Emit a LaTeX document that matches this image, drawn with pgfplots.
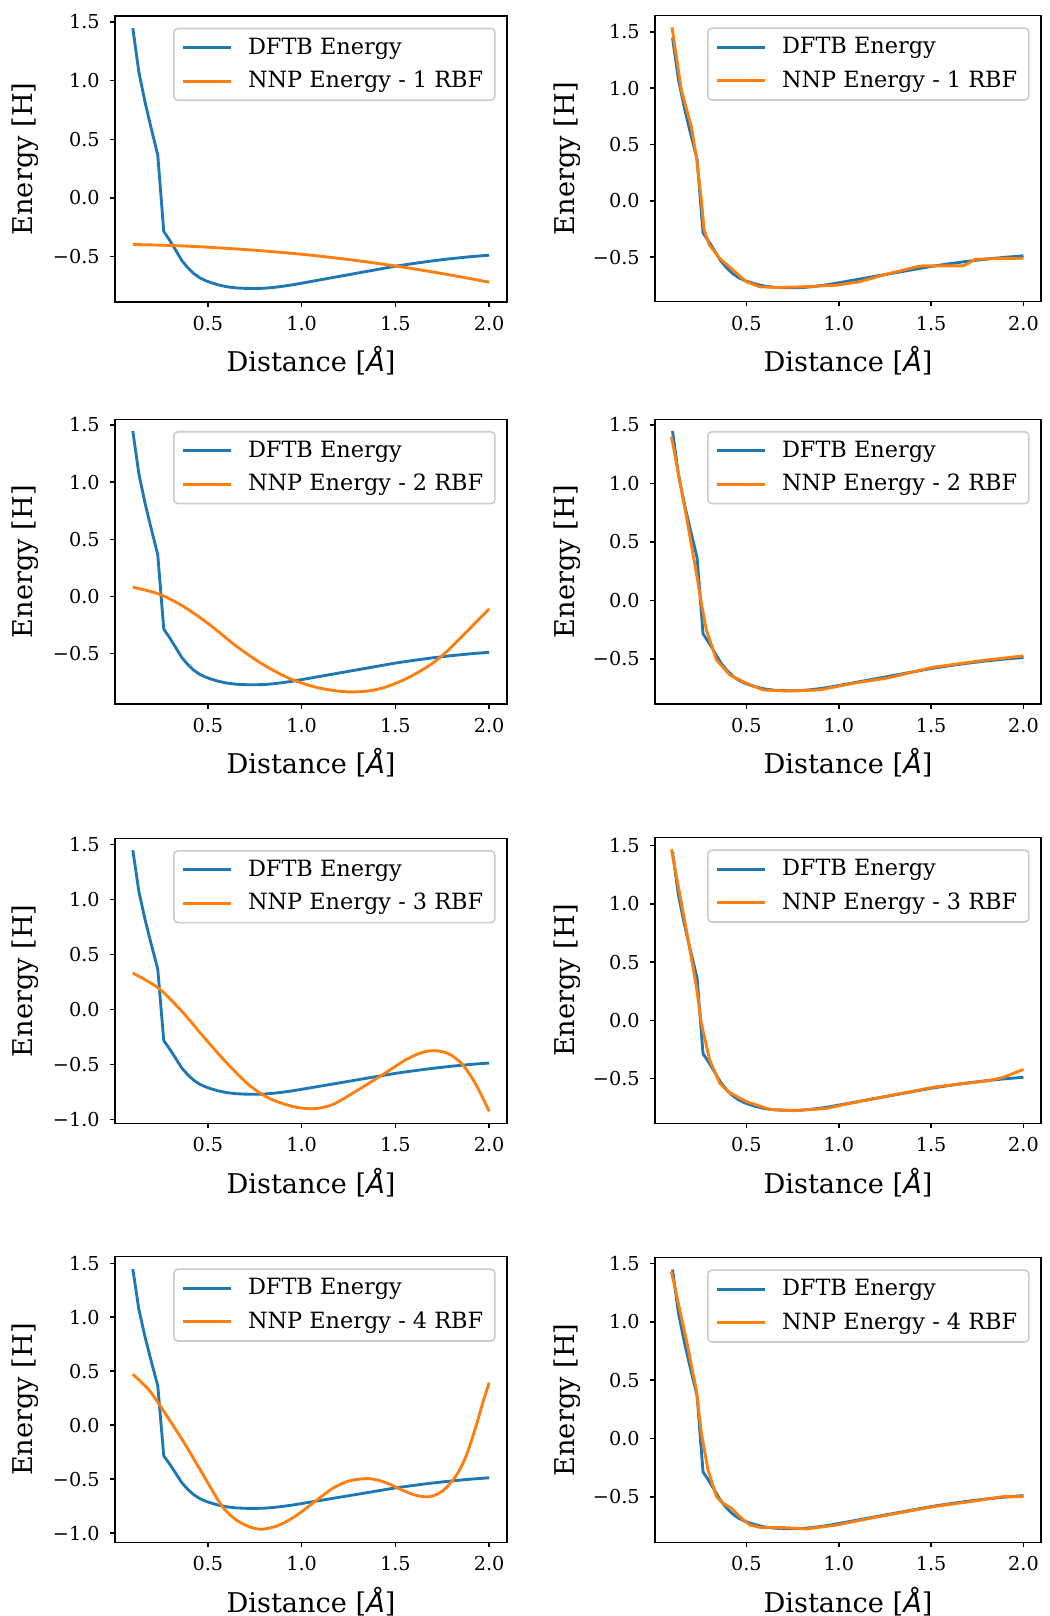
\documentclass[border=0pt]{standalone}
\usepackage{fontspec}
\setmainfont{DejaVu Serif}
\newfontfamily\dvs{DejaVu Sans}
\usepackage{pgfplots}
\usepackage{pgfplotstable}
\pgfplotsset{compat=1.18}
\definecolor{mplblue}{HTML}{1F77B4}
\definecolor{mplorange}{HTML}{FF7F0E}

\pgfplotstableread{
x y
0.100 1.447
0.132 1.075
0.164 0.825
0.197 0.600
0.233 0.365
0.265 -0.285
0.297 -0.362
0.329 -0.447
0.361 -0.533
0.393 -0.595
0.425 -0.645
0.457 -0.681
0.489 -0.706
0.521 -0.724
0.553 -0.740
0.600 -0.757
0.650 -0.767
0.700 -0.771
0.750 -0.772
0.800 -0.770
0.850 -0.763
0.900 -0.753
0.950 -0.741
1.000 -0.727
1.100 -0.698
1.200 -0.669
1.300 -0.640
1.400 -0.611
1.500 -0.582
1.600 -0.558
1.700 -0.536
1.800 -0.517
1.900 -0.501
2.000 -0.488
}\dftb

\pgfplotsset{
  panel/.style={
    scale only axis, anchor=south west,
    xmin=0.005, xmax=2.095,
    xtick={0.5,1,1.5,2}, xticklabels={0.5,1.0,1.5,2.0},
    tick pos=left, tick align=outside,
    major tick length=2.35pt,
    major tick style={line width=0.76pt, black},
    axis line style={line width=0.76pt},
    ticklabel style={font=\fontsize{9.6}{11}\selectfont, inner sep=0pt},
    xticklabel shift=4.65pt,
    yticklabel shift=5.15pt,
    xlabel={Distance [{\dvs\itshape Å}]},
    ylabel={Energy [H]},
    label style={font=\fontsize{13.6}{16}\selectfont},
    xlabel style={at={([yshift=-29.5pt]axis description cs:0.5,0)}, anchor=center},
    legend style={at={(1,1)}, anchor=north east, xshift=-5.65pt, yshift=-5.85pt,
      draw=black!20, line width=0.8pt, rounded corners=2pt, fill=white,
      font=\fontsize{11.2}{13}\selectfont, inner xsep=3.85pt, inner ysep=4.6pt,
      row sep=6.9pt, column sep=6.0pt,
      nodes={inner xsep=2pt, inner ysep=0pt, text height=8.2pt, text depth=1.7pt}},
    legend cell align=left,
    legend image code/.code={\draw[##1, line width=1.43pt] (0pt,0pt) -- (23.8pt,0pt);},
  },
  leftcol/.style={width=196pt, ylabel style={at={([xshift=-45pt]axis description cs:0,0.5)}, anchor=center}},
  rightcol/.style={width=193pt, ylabel style={at={([xshift=-43.75pt]axis description cs:0,0.5)}, anchor=center}},
  yA/.style={ytick={-0.5,0,0.5,1,1.5}, yticklabels={−0.5,0.0,0.5,1.0,1.5}},
  yB/.style={ytick={-1,-0.5,0,0.5,1,1.5}, yticklabels={−1.0,−0.5,0.0,0.5,1.0,1.5}},
  dftbline/.style={mplblue, line width=1.43pt, line join=round},
  nnpline/.style={mplorange, line width=1.43pt, line join=round},
}

\begin{document}
\begin{tikzpicture}
\useasboundingbox (0,0) rectangle (524.5pt,808pt);

% ---- Row 1 left
\begin{axis}[panel, leftcol, yA, at={(57.5pt,657pt)}, height=143pt, ymin=-0.887, ymax=1.551]
\addplot[dftbline] table {\dftb};
\addplot[nnpline, smooth] coordinates {(0.1,-0.397) (0.3,-0.405) (0.5,-0.420) (0.75,-0.446) (1.0,-0.480) (1.25,-0.525) (1.5,-0.580) (1.75,-0.645) (2.0,-0.718)};
\legend{DFTB Energy, NNP Energy - 1 RBF}
\end{axis}

% ---- Row 1 right
\begin{axis}[panel, rightcol, yA, at={(327.5pt,657.15pt)}, height=143pt, ymin=-0.895, ymax=1.643]
\addplot[dftbline] table {\dftb};
\addplot[nnpline] coordinates {(0.097,1.54) (0.148,0.982) (0.202,0.657) (0.229,0.391) (0.256,0.006) (0.271,-0.26) (0.3,-0.393) (0.356,-0.512) (0.428,-0.615) (0.5,-0.719) (0.572,-0.763) (0.662,-0.769) (0.807,-0.763) (0.987,-0.749) (1.11,-0.719) (1.258,-0.651) (1.42,-0.586) (1.457,-0.577) (1.673,-0.577) (1.70,-0.556) (1.736,-0.52) (1.8,-0.515) (2.0,-0.509)};
\legend{DFTB Energy, NNP Energy - 1 RBF}
\end{axis}

% ---- Row 2 left
\begin{axis}[panel, leftcol, yA, at={(57.5pt,456pt)}, height=142.35pt, ymin=-0.94, ymax=1.55]
\addplot[dftbline] table {\dftb};
\addplot[nnpline, smooth] coordinates {(0.1,0.082) (0.237,0.023) (0.362,-0.079) (0.504,-0.239) (0.647,-0.428) (0.789,-0.589) (0.932,-0.714) (1.075,-0.793) (1.217,-0.831) (1.324,-0.831) (1.431,-0.801) (1.556,-0.720) (1.681,-0.603) (1.77,-0.487) (1.877,-0.312) (2.0,-0.108)};
\legend{DFTB Energy, NNP Energy - 2 RBF}
\end{axis}

% ---- Row 2 right
\begin{axis}[panel, rightcol, yA, at={(327.5pt,456pt)}, height=142.35pt, ymin=-0.885, ymax=1.548]
\addplot[dftbline] table {\dftb};
\addplot[nnpline] coordinates {(0.094,1.40) (0.175,0.717) (0.229,0.232) (0.256,-0.024) (0.283,-0.252) (0.338,-0.509) (0.41,-0.637) (0.5,-0.708) (0.59,-0.765) (0.717,-0.774) (0.897,-0.765) (1.078,-0.708) (1.258,-0.665) (1.51,-0.571) (1.8,-0.509) (2.0,-0.474)};
\legend{DFTB Energy, NNP Energy - 2 RBF}
\end{axis}

% ---- Row 3 left
\begin{axis}[panel, leftcol, yB, at={(57.5pt,246.35pt)}, height=142.5pt, ymin=-1.036, ymax=1.555]
\addplot[dftbline] table {\dftb};
\addplot[nnpline, smooth] coordinates {(0.1,0.330) (0.237,0.193) (0.362,-0.019) (0.468,-0.231) (0.593,-0.473) (0.718,-0.685) (0.825,-0.807) (0.95,-0.882) (1.057,-0.904) (1.164,-0.867) (1.288,-0.746) (1.431,-0.595) (1.556,-0.458) (1.645,-0.391) (1.716,-0.376) (1.788,-0.407) (1.859,-0.504) (1.93,-0.685) (2.0,-0.928)};
\legend{DFTB Energy, NNP Energy - 3 RBF}
\end{axis}

% ---- Row 3 right
\begin{axis}[panel, rightcol, yA, at={(327.5pt,246.35pt)}, height=142.8pt, ymin=-0.883, ymax=1.569]
\addplot[dftbline] table {\dftb};
\addplot[nnpline] coordinates {(0.094,1.469) (0.175,0.776) (0.229,0.29) (0.256,-0.025) (0.301,-0.34) (0.356,-0.54) (0.401,-0.612) (0.5,-0.697) (0.626,-0.763) (0.753,-0.775) (0.933,-0.755) (1.06,-0.712) (1.294,-0.64) (1.529,-0.569) (1.8,-0.52) (1.89,-0.489) (2.0,-0.42)};
\legend{DFTB Energy, NNP Energy - 3 RBF}
\end{axis}

% ---- Row 4 left
\begin{axis}[panel, leftcol, yB, at={(57.5pt,36.85pt)}, height=142.8pt, ymin=-1.086, ymax=1.561]
\addplot[dftbline] table {\dftb};
\addplot[nnpline, smooth] coordinates {(0.1,0.471) (0.183,0.332) (0.246,0.178) (0.362,-0.131) (0.468,-0.440) (0.575,-0.749) (0.647,-0.873) (0.718,-0.940) (0.789,-0.965) (0.878,-0.928) (0.968,-0.842) (1.075,-0.703) (1.164,-0.588) (1.253,-0.517) (1.36,-0.496) (1.449,-0.533) (1.538,-0.604) (1.609,-0.650) (1.681,-0.663) (1.752,-0.610) (1.823,-0.471) (1.877,-0.286) (1.93,-0.008) (1.966,0.209) (2.0,0.394)};
\legend{DFTB Energy, NNP Energy - 4 RBF}
\end{axis}

% ---- Row 4 right
\begin{axis}[panel, rightcol, yA, at={(327.5pt,36.85pt)}, height=142.3pt, ymin=-0.888, ymax=1.549]
\addplot[dftbline] table {\dftb};
\addplot[nnpline] coordinates {(0.094,1.429) (0.175,0.844) (0.229,0.416) (0.256,0.045) (0.292,-0.269) (0.338,-0.497) (0.374,-0.554) (0.419,-0.597) (0.464,-0.668) (0.518,-0.74) (0.572,-0.76) (0.717,-0.763) (0.825,-0.774) (0.987,-0.74) (1.168,-0.683) (1.511,-0.583) (1.709,-0.54) (1.89,-0.497) (2.0,-0.497)};
\legend{DFTB Energy, NNP Energy - 4 RBF}
\end{axis}
\end{tikzpicture}
\end{document}
